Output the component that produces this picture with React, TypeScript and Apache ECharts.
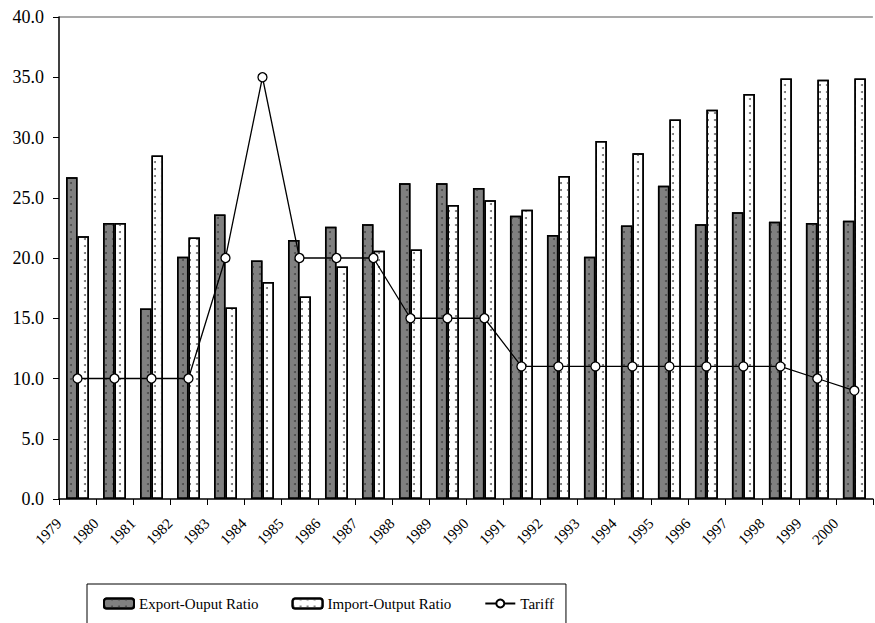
import React, { useEffect, useRef } from "react";
import * as echarts from "echarts";

const years = ["1979","1980","1981","1982","1983","1984","1985","1986","1987","1988","1989","1990","1991","1992","1993","1994","1995","1996","1997","1998","1999","2000"];
const exportRatio = [26.7,22.9,15.8,20.1,23.6,19.8,21.5,22.6,22.8,26.2,26.2,25.8,23.5,21.9,20.1,22.7,26.0,22.8,23.8,23.0,22.9,23.1];
const importRatio = [21.8,22.9,28.5,21.7,15.9,18.0,16.8,19.3,20.6,20.7,24.4,24.8,24.0,26.8,29.7,28.7,31.5,32.3,33.6,34.9,34.8,34.9];
const tariff = [10,10,10,10,20,35,20,20,20,15,15,15,11,11,11,11,11,11,11,11,10,9];
const yTicks = [0,5,10,15,20,25,30,35,40];

const FONT = "Liberation Serif";

export default function App() {
  const ref = useRef<HTMLDivElement>(null);
  useEffect(() => {
    if (!ref.current) return;
    const chart = echarts.init(ref.current, null, { renderer: "svg" });
    const splitColors = yTicks.map((_, i) => (i === yTicks.length - 1 ? "#8c8c8c" : "rgba(0,0,0,0)"));
    chart.setOption({
      animation: false,
      backgroundColor: "#ffffff",
      textStyle: { fontFamily: FONT },
      grid: { left: 59, top: 17, width: 824, height: 482, containLabel: false },
      legend: {
        left: 87,
        top: 584,
        orient: "horizontal",
        borderColor: "#000",
        borderWidth: 1,
        padding: [12, 12, 22, 16],
        itemGap: 33,
        itemWidth: 30,
        itemHeight: 10,
        textStyle: { fontFamily: FONT, fontSize: 15, color: "#000" },
        data: [
          { name: "Export-Ouput Ratio" },
          { name: "Import-Output Ratio" },
          { name: "Tariff" },
        ],
      },
      xAxis: [
        {
          type: "category",
          data: years,
          boundaryGap: true,
          axisLine: { show: true, lineStyle: { color: "#000", width: 1.5 } },
          axisTick: { show: true, length: 6, lineStyle: { color: "#000", width: 1 } },
          axisLabel: { show: false },
          splitLine: { show: false },
        },
        {
          type: "category",
          data: [...years, ""],
          boundaryGap: false,
          position: "bottom",
          axisLine: { show: false },
          axisTick: { show: false },
          splitLine: { show: false },
          axisLabel: {
            show: true,
            interval: 0,
            rotate: 45,
            margin: 22,
            fontFamily: FONT,
            fontSize: 15,
            color: "#000",
          },
        },
      ],
      yAxis: {
        type: "value",
        min: 0,
        max: 40,
        interval: 5,
        axisLine: { show: true, lineStyle: { color: "#000", width: 1.5 } },
        axisTick: { show: true, length: 6, lineStyle: { color: "#000", width: 1 } },
        axisLabel: {
          margin: 15,
          fontFamily: FONT,
          fontSize: 18,
          color: "#000",
          formatter: (v: number) => v.toFixed(1),
        },
        splitLine: { show: true, lineStyle: { color: splitColors, width: 1.5 } },
      },
      series: [
        {
          name: "Export-Ouput Ratio",
          type: "bar",
          xAxisIndex: 0,
          data: exportRatio,
          barGap: "0%",
          barCategoryGap: "38%",
          itemStyle: {
            color: "#808080",
            borderColor: "#000",
            borderWidth: 1.5,
            decal: {
              symbol: "circle",
              symbolSize: 1,
              color: "#4a4a4a",
              dashArrayX: [2, 5],
              dashArrayY: [2, 5],
              rotation: 0,
            },
          },
        },
        {
          name: "Import-Output Ratio",
          type: "bar",
          xAxisIndex: 0,
          data: importRatio,
          barGap: "0%",
          barCategoryGap: "38%",
          itemStyle: {
            color: "#ffffff",
            borderColor: "#000",
            borderWidth: 1.5,
            decal: {
              symbol: "circle",
              symbolSize: 1,
              color: "#6a6a6a",
              dashArrayX: [2, 5],
              dashArrayY: [2, 5],
              rotation: 0,
            },
          },
        },
        {
          name: "Tariff",
          type: "line",
          xAxisIndex: 0,
          data: tariff,
          symbol: "circle",
          symbolSize: 9,
          lineStyle: { color: "#000", width: 1.3 },
          itemStyle: { color: "#fff", borderColor: "#000", borderWidth: 1.3 },
          z: 5,
        },
      ],
    });
    return () => chart.dispose();
  }, []);
  return (
    <div
      ref={ref}
      style={{ position: "fixed", left: 0, top: 0, width: 875, height: 623, background: "#fff" }}
    />
  );
}
